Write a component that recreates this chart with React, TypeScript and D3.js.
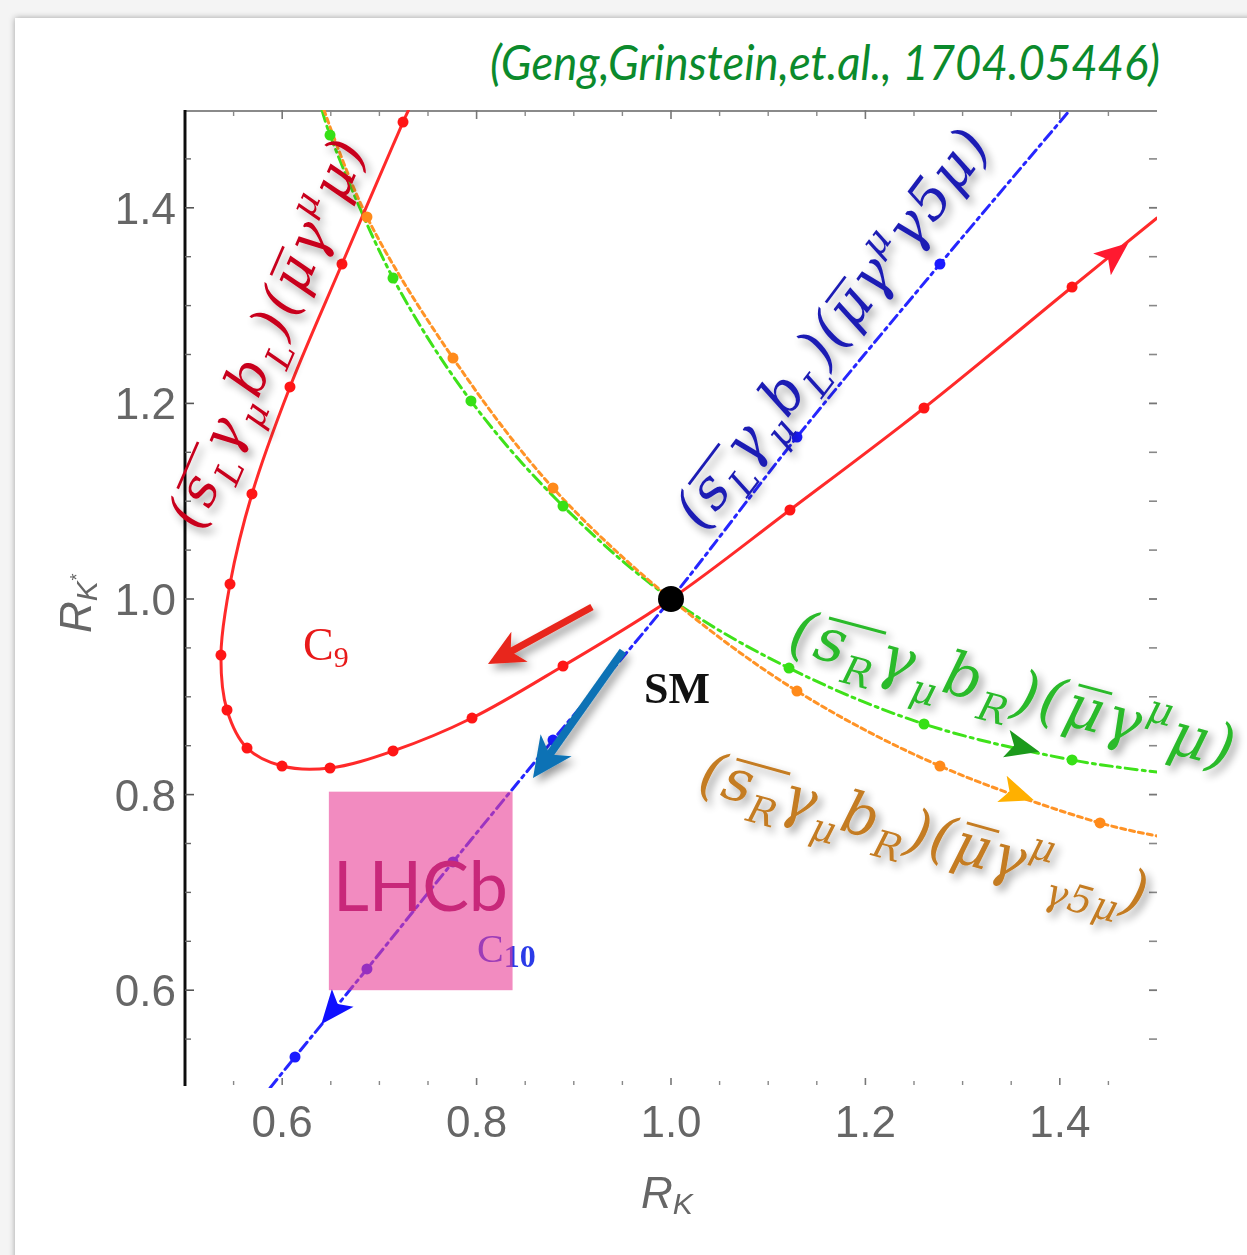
import React, { useLayoutEffect, useRef, useState } from 'react';
import * as d3 from 'd3';

// ---------- data (R_K, R_K*) ----------
const xTickMajor = [0.6, 0.8, 1.0, 1.2, 1.4];
const yTickMajor = [0.6, 0.8, 1.0, 1.2, 1.4];
const tickMinor = [0.55, 0.65, 0.7, 0.75, 0.85, 0.9, 0.95, 1.05, 1.1, 1.15, 1.25, 1.3, 1.35, 1.45];
const xTickLabels = ['0.6', '0.8', '1.0', '1.2', '1.4'];
const yTickLabels = ['0.6', '0.8', '1.0', '1.2', '1.4'];

type P = [number, number];

// C9 : (sL γμ bL)(μ γ^μ μ)  — red
const c9Line: P[] = [
  [0.730, 1.5], [0.7243, 1.4877], [0.6615, 1.3425], [0.6080, 1.2168], [0.5689, 1.1074],
  [0.5463, 1.0153], [0.5370, 0.9427], [0.5432, 0.8865], [0.5638, 0.8476], [0.5998, 0.8292],
  [0.6492, 0.8272], [0.7140, 0.8446], [0.7953, 0.8783], [0.8889, 0.9315], [1.0, 1.0],
  [1.1224, 1.0910], [1.2603, 1.1953], [1.4126, 1.3190], [1.5, 1.3896],
];
const c9Markers: P[] = [
  [0.7243, 1.4877], [0.6615, 1.3425], [0.6080, 1.2168], [0.5689, 1.1074], [0.5463, 1.0153],
  [0.5370, 0.9427], [0.5432, 0.8865], [0.5638, 0.8476], [0.5998, 0.8292], [0.6492, 0.8272],
  [0.7140, 0.8446], [0.7953, 0.8783], [0.8889, 0.9315], [1.1224, 1.0910], [1.2603, 1.1953],
  [1.4126, 1.3190],
];

// C10 : (sL γμ bL)(μ γ^μ γ5 μ) — blue
const c10Line: P[] = [
  [0.5875, 0.5], [0.6132, 0.5317], [0.6872, 0.6217], [0.7757, 0.7311], [0.8786, 0.8558],
  [1.0, 1.0], [1.1296, 1.1656], [1.2767, 1.3425], [1.4105, 1.5],
];
const c10Markers: P[] = [
  [0.6132, 0.5317], [0.6872, 0.6217], [0.7757, 0.7311], [0.8786, 0.8558],
  [1.1296, 1.1656], [1.2767, 1.3425],
];

// (sR γμ bR)(μ γ^μ μ) — green
const rrLine: P[] = [
  [0.641, 1.5], [0.6492, 1.4744], [0.7140, 1.3282], [0.7942, 1.2025], [0.8889, 1.0951],
  [1.0, 1.0], [1.1214, 0.9294], [1.2603, 0.8722], [1.4126, 0.8354], [1.5, 0.8231],
];
const rrMarkers: P[] = [
  [0.6492, 1.4744], [0.7140, 1.3282], [0.7942, 1.2025], [0.8889, 1.0951],
  [1.1214, 0.9294], [1.2603, 0.8722], [1.4126, 0.8354],
];

// (sR γμ bR)(μ γ^μ γ5 μ) — orange
const rr5Line: P[] = [
  [0.643, 1.5], [0.6872, 1.3906], [0.7757, 1.2464], [0.8786, 1.1135], [1.0, 1.0],
  [1.1296, 0.9059], [1.2767, 0.8292], [1.4414, 0.7710], [1.5, 0.7577],
];
const rr5Markers: P[] = [
  [0.6872, 1.3906], [0.7757, 1.2464], [0.8786, 1.1135],
  [1.1296, 0.9059], [1.2767, 0.8292], [1.4414, 0.7710],
];

const smPoint: P = [1.0, 1.0];

// arrowheads along the curves (position, flow direction)
const flowArrows = [
  { key: 'c9', at: [1.457, 1.353] as P, dir: 1 },
  { key: 'rr', at: [1.362, 0.848] as P, dir: 1 },
  { key: 'rr5', at: [1.357, 0.800] as P, dir: 1 },
  { key: 'c10', at: [0.6512, 0.5787] as P, dir: -1 },
];

// thick annotation arrows
const annotArrows = [
  { key: 'red', from: [0.9187, 0.9918] as P, to: [0.8117, 0.9335] as P },
  { key: 'blue', from: [0.9506, 0.9468] as P, to: [0.8580, 0.8170] as P },
];

// LHCb box
const lhcbX: P = [0.648, 0.837];
const lhcbY: P = [0.600, 0.803];

// ---------- styles ----------
const seriesStyle: Record<string, { stroke: string; dash: string; marker: string; arrow: string }> = {
  c9: { stroke: '#ff2a2a', dash: 'none', marker: '#ff1616', arrow: '#ff1a30' },
  c10: { stroke: '#2626ff', dash: '11,5,3,5', marker: '#1a1aff', arrow: '#1010ff' },
  rr: { stroke: '#3fe21a', dash: '12,5,3,5', marker: '#36e016', arrow: '#1c9a1c' },
  rr5: { stroke: '#ff9326', dash: '5,4', marker: '#ff8a1a', arrow: '#ffb000' },
};

type Tok = string | { sub: string } | { sup: string } | { over: Tok[] };

const labelRed: Tok[] = ['(', { over: ['s', { sub: 'L' }] }, 'γ', { sub: 'μ' }, 'b', { sub: 'L' }, ')(', { over: ['μ'] }, 'γ', { sup: 'μ' }, 'μ', ')'];
const labelBlue: Tok[] = ['(', { over: ['s', { sub: 'L' }] }, 'γ', { sub: 'μ' }, 'b', { sub: 'L' }, ')(', { over: ['μ'] }, 'γ', { sup: 'μ' }, 'γ5μ', ')'];
const labelGreen: Tok[] = ['(', { over: ['s', { sub: 'R' }] }, 'γ', { sub: 'μ' }, 'b', { sub: 'R' }, ')(', { over: ['μ'] }, 'γ', { sup: 'μ' }, 'μ', ')'];
const labelOrange: Tok[] = ['(', { over: ['s', { sub: 'R' }] }, 'γ', { sub: 'μ' }, 'b', { sub: 'R' }, ')(', { over: ['μ'] }, 'γ', { sup: 'μ' }, { sub: 'γ5μ' }, ')'];

const MATH_FONT = "'DejaVu Serif', 'Liberation Serif', serif";

function MathLabel({ tokens, fs, color, x, y, angle, len }: any) {
  const ref = useRef<SVGTextElement>(null);
  const [bars, setBars] = useState<{ x1: number; x2: number; y: number }[]>([]);

  const runs: { t: string; shift: number; size: number; over: number; c0: number }[] = [];
  let oc = 0;
  let cc = 0;
  const pushTok = (tok: Tok, over: number) => {
    const add = (t: string, shift: number, size: number) => {
      runs.push({ t, shift, size, over, c0: cc });
      cc += t.length;
    };
    if (typeof tok === 'string') add(tok, 0, 1);
    else if ('sub' in tok) add(tok.sub, 0.28, 0.66);
    else if ('sup' in tok) add(tok.sup, -0.42, 0.66);
    else { const id = oc++; tok.over.forEach((t2) => pushTok(t2, id)); }
  };
  tokens.forEach((t: Tok) => pushTok(t, -1));

  const groups: { first: number; last: number }[] = [];
  runs.forEach((r) => {
    if (r.over < 0) return;
    if (!groups[r.over]) groups[r.over] = { first: r.c0, last: r.c0 + r.t.length - 1 };
    else groups[r.over].last = r.c0 + r.t.length - 1;
  });

  useLayoutEffect(() => {
    const el = ref.current;
    if (!el) return;
    const out: { x1: number; x2: number; y: number }[] = [];
    groups.forEach((g) => {
      try {
        const s = el.getStartPositionOfChar(g.first);
        const e = el.getEndPositionOfChar(g.last);
        out.push({ x1: s.x + fs * 0.12, x2: e.x + fs * 0.05, y: -fs * 0.7 });
      } catch (err) { /* ignore */ }
    });
    setBars(out);
  }, []);

  let prev = 0;
  const tspans = runs.map((r, i) => {
    const dy = (r.shift - prev) * fs;
    prev = r.shift;
    return <tspan key={i} dy={dy} fontSize={r.size * fs}>{r.t}</tspan>;
  });

  return (
    <g filter="url(#tshadow)">
      <g transform={`translate(${x},${y}) rotate(${angle})`}>
        <text ref={ref} fill={color} fontFamily={MATH_FONT} fontStyle="italic" fontSize={fs}
          textLength={len} lengthAdjust="spacing">
          {tspans}
        </text>
        {bars.map((b, i) => (
          <line key={i} x1={b.x1} x2={b.x2} y1={b.y} y2={b.y} stroke={color} strokeWidth={fs * 0.05} />
        ))}
      </g>
    </g>
  );
}

export default function App() {
  const W = 1247, H = 1255;
  const x = d3.scaleLinear().domain([0.5, 1.5]).range([185, 1157]);
  const y = d3.scaleLinear().domain([0.5, 1.5]).range([1088, 110]);
  const line = d3.line<P>().x((d) => x(d[0])).y((d) => y(d[1])).curve(d3.curveCatmullRom.alpha(0.5));

  const series: Record<string, { line: P[]; markers: P[] }> = {
    rr: { line: rrLine, markers: rrMarkers },
    rr5: { line: rr5Line, markers: rr5Markers },
    c10: { line: c10Line, markers: c10Markers },
    c9: { line: c9Line, markers: c9Markers },
  };

  const dirAt = (pts: P[], p: P) => {
    const px = pts.map((d) => [x(d[0]), y(d[1])]);
    const q = [x(p[0]), y(p[1])];
    let best = 0, bd = Infinity;
    for (let k = 0; k < px.length - 1; k++) {
      const mx = (px[k][0] + px[k + 1][0]) / 2, my = (px[k][1] + px[k + 1][1]) / 2;
      const dd = (mx - q[0]) ** 2 + (my - q[1]) ** 2;
      if (dd < bd) { bd = dd; best = k; }
    }
    return Math.atan2(px[best + 1][1] - px[best][1], px[best + 1][0] - px[best][0]) * 180 / Math.PI;
  };

  const L = x.range()[0], R = x.range()[1], T = y.range()[1], B = y.range()[0];

  return (
    <svg width={W} height={H} style={{ position: 'absolute', left: 0, top: 0, display: 'block' }}
      xmlns="http://www.w3.org/2000/svg">
      <defs>
        <filter id="slide" x="-5%" y="-5%" width="110%" height="110%">
          <feDropShadow dx="0" dy="0" stdDeviation="3" floodColor="#000" floodOpacity="0.35" />
        </filter>
        <filter id="tshadow" x="-20%" y="-20%" width="140%" height="140%">
          <feGaussianBlur in="SourceAlpha" stdDeviation="4" />
          <feOffset dx="4" dy="5" />
          <feComponentTransfer><feFuncA type="linear" slope="0.4" /></feComponentTransfer>
          <feMerge><feMergeNode /><feMergeNode in="SourceGraphic" /></feMerge>
        </filter>
        <filter id="blur1"><feGaussianBlur stdDeviation="0.6" /></filter>
        <clipPath id="plotclip"><rect x={L} y={T} width={R - L} height={B - T} /></clipPath>
      </defs>
      <rect x={0} y={0} width={W} height={H} fill="#f4f4f4" />
      <rect x={15} y={18} width={W + 40} height={H + 40} fill="#ffffff" filter="url(#slide)" />

      {/* title */}
      <text x={1160} y={80} textAnchor="end" fill="#0b8a2c" fontFamily="Lato, 'Open Sans', sans-serif"
        fontStyle="italic" fontSize={48} textLength={670} lengthAdjust="spacingAndGlyphs">
        (Geng,Grinstein,et.al., 1704.05446)
      </text>

      {/* frame */}
      <g filter="url(#blur1)">
        <line x1={L} x2={R} y1={T + 1} y2={T + 1} stroke="#8a8a8a" strokeWidth={2} />
        <line x1={L} x2={L} y1={T} y2={B - 2} stroke="#111" strokeWidth={3} />
        {xTickMajor.map((v) => (
          <g key={'xm' + v}>
            <line x1={x(v)} x2={x(v)} y1={T} y2={T + 9} stroke="#777" strokeWidth={1.6} />
            <line x1={x(v)} x2={x(v)} y1={B - 10} y2={B - 3} stroke="#777" strokeWidth={1.6} />
          </g>
        ))}
        {tickMinor.map((v) => (
          <g key={'xn' + v}>
            <line x1={x(v)} x2={x(v)} y1={T} y2={T + 6} stroke="#888" strokeWidth={1.4} />
            <line x1={x(v)} x2={x(v)} y1={B - 7} y2={B - 3} stroke="#888" strokeWidth={1.4} />
          </g>
        ))}
        {yTickMajor.map((v) => (
          <g key={'ym' + v}>
            <line x1={L} x2={L + 9} y1={y(v)} y2={y(v)} stroke="#555" strokeWidth={1.6} />
            <line x1={R - 8} x2={R} y1={y(v)} y2={y(v)} stroke="#777" strokeWidth={1.8} />
          </g>
        ))}
        {tickMinor.map((v) => (
          <g key={'yn' + v}>
            <line x1={L} x2={L + 6} y1={y(v)} y2={y(v)} stroke="#666" strokeWidth={1.4} />
            <line x1={R - 8} x2={R} y1={y(v)} y2={y(v)} stroke="#888" strokeWidth={1.6} />
          </g>
        ))}
        {xTickMajor.map((v, i) => (
          <text key={'xl' + v} x={x(v)} y={1137} textAnchor="middle" fill="#666"
            fontFamily="'Liberation Sans', Arial, sans-serif" fontSize={44}>{xTickLabels[i]}</text>
        ))}
        {yTickMajor.map((v, i) => (
          <text key={'yl' + v} x={176} y={y(v) + 16} textAnchor="end" fill="#666"
            fontFamily="'Liberation Sans', Arial, sans-serif" fontSize={44}>{yTickLabels[i]}</text>
        ))}
        <text x={641} y={1208} fill="#666" fontFamily="'Liberation Sans', Arial, sans-serif" fontStyle="italic" fontSize={44}>
          R<tspan dy={6} fontSize={30}>K</tspan>
        </text>
        <text transform="translate(91,633) rotate(-90)" fill="#666" fontFamily="'Liberation Sans', Arial, sans-serif" fontStyle="italic" fontSize={44}>
          R<tspan dy={6} fontSize={30}>K</tspan><tspan dy={-14} fontSize={18}>*</tspan>
        </text>
      </g>

      {/* C10 label (under LHCb box) */}
      <text x={477} y={962} fill="#2b3be8" fontFamily="'Liberation Serif', serif" fontSize={40}>
        C<tspan dy={5} fontSize={32} fontWeight="bold">10</tspan>
      </text>
      {/* C9 label */}
      <text x={303} y={660} fill="#e81a1a" fontFamily="'Liberation Serif', serif" fontSize={46}>
        C<tspan dy={7} fontSize={30}>9</tspan>
      </text>

      {/* curves */}
      <g clipPath="url(#plotclip)">
        {Object.entries(series).map(([k, s]) => (
          <path key={k} d={line(s.line) || ''} fill="none" stroke={seriesStyle[k].stroke}
            strokeWidth={3} strokeDasharray={seriesStyle[k].dash} strokeLinecap="round" />
        ))}
        {Object.entries(series).map(([k, s]) => (
          <g key={'m' + k}>
            {s.markers.map((d, i) => (
              <circle key={i} cx={x(d[0])} cy={y(d[1])} r={5.5} fill={seriesStyle[k].marker} />
            ))}
          </g>
        ))}
        {flowArrows.map((a) => {
          const ang = dirAt(series[a.key].line, a.at) + (a.dir < 0 ? 180 : 0);
          return (
            <path key={'fa' + a.key} transform={`translate(${x(a.at[0])},${y(a.at[1])}) rotate(${ang})`}
              d="M17,0 L-17,-14 L-9,0 L-17,14 Z" fill={seriesStyle[a.key].arrow} />
          );
        })}
      </g>

      {/* SM point */}
      <circle cx={x(smPoint[0])} cy={y(smPoint[1])} r={13} fill="#000" />
      <text x={677} y={703} textAnchor="middle" fontFamily="'Liberation Serif', serif" fontWeight="bold"
        fontSize={44} fill="#111">SM</text>

      {/* LHCb box */}
      <rect x={x(lhcbX[0])} y={y(lhcbY[1])} width={x(lhcbX[1]) - x(lhcbX[0])} height={y(lhcbY[0]) - y(lhcbY[1])}
        fill="rgb(233,62,150)" fillOpacity={0.6} />
      <text x={333} y={911} fill="#c8287a" fontFamily="Lato, 'Open Sans', sans-serif" fontSize={70}
        textLength={175} lengthAdjust="spacingAndGlyphs">LHCb</text>

      {/* math labels */}
      <MathLabel tokens={labelRed} fs={54} color="#c8001e" x={200} y={532} angle={-66.4} len={417} />
      <MathLabel tokens={labelBlue} fs={56} color="#1c1cb4" x={702} y={532} angle={-53} len={482} />
      <MathLabel tokens={labelGreen} fs={60} color="#2cba2c" x={786} y={650} angle={15} len={458} />
      <MathLabel tokens={labelOrange} fs={58} color="#c47c24" x={696} y={790} angle={15.5} len={462} />

      {/* annotation arrows */}
      <g filter="url(#tshadow)">
        {annotArrows.map((a) => {
          const x1 = x(a.from[0]), y1 = y(a.from[1]), x2 = x(a.to[0]), y2 = y(a.to[1]);
          const ang = Math.atan2(y2 - y1, x2 - x1) * 180 / Math.PI;
          const len = Math.hypot(x2 - x1, y2 - y1);
          const col = a.key === 'red' ? '#e8271b' : '#0a72b5';
          const w = a.key === 'red' ? 7 : 8;
          const hl = a.key === 'red' ? 36 : 40;
          const hw = a.key === 'red' ? 17 : 19;
          return (
            <g key={a.key} transform={`translate(${x1},${y1}) rotate(${ang})`}>
              <line x1={0} y1={0} x2={len - hl * 0.6} y2={0} stroke={col} strokeWidth={w} />
              <path d={`M${len},0 L${len - hl},${-hw} L${len - hl * 0.72},0 L${len - hl},${hw} Z`} fill={col} />
            </g>
          );
        })}
      </g>
    </svg>
  );
}
